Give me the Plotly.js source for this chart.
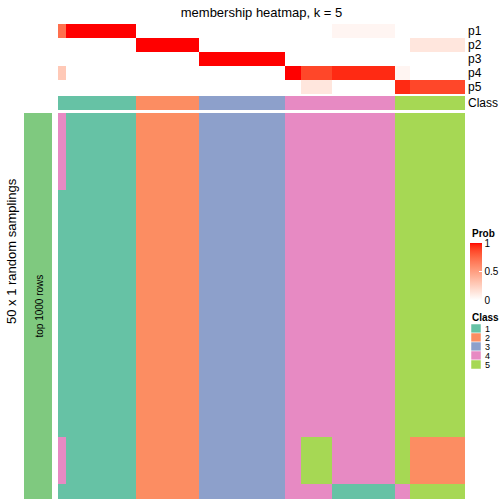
<!DOCTYPE html>
<html><head><meta charset="utf-8">
<script src="https://cdn.plot.ly/plotly-3.0.1.min.js"></script>
<style>html,body{margin:0;padding:0;background:#fff}</style>
</head><body><div id="chart" style="width:504px;height:504px"></div>
<script>
// ---------- data ----------
const probLabels = ["p1","p2","p3","p4","p5"];
const classLabels = ["1","2","3","4","5"];
const p1 = [0.72,1,1,1,1,1,1,1,1,1, 0,0,0,0,0,0,0,0, 0,0,0,0,0,0,0,0,0,0,0, 0,0, 0,0,0,0, 0.05,0.05,0.05,0.05,0.05,0.05,0.05,0.05, 0,0, 0,0,0,0,0,0,0];
const p2 = [0,0,0,0,0,0,0,0,0,0, 1,1,1,1,1,1,1,1, 0,0,0,0,0,0,0,0,0,0,0, 0,0, 0,0,0,0, 0,0,0,0,0,0,0,0, 0,0, 0.13,0.13,0.13,0.13,0.13,0.13,0.13];
const p3 = [0,0,0,0,0,0,0,0,0,0, 0,0,0,0,0,0,0,0, 1,1,1,1,1,1,1,1,1,1,1, 0,0, 0,0,0,0, 0,0,0,0,0,0,0,0, 0,0, 0,0,0,0,0,0,0];
const p4 = [0.28,0,0,0,0,0,0,0,0,0, 0,0,0,0,0,0,0,0, 0,0,0,0,0,0,0,0,0,0,0, 1,1, 0.87,0.87,0.87,0.87, 0.95,0.95,0.95,0.95,0.95,0.95,0.95,0.95, 0.05,0.05, 0,0,0,0,0,0,0];
const p5 = [0,0,0,0,0,0,0,0,0,0, 0,0,0,0,0,0,0,0, 0,0,0,0,0,0,0,0,0,0,0, 0,0, 0.13,0.13,0.13,0.13, 0,0,0,0,0,0,0,0, 0.95,0.95, 0.87,0.87,0.87,0.87,0.87,0.87,0.87];
const sampleClass = [1,1,1,1,1,1,1,1,1,1, 2,2,2,2,2,2,2,2, 3,3,3,3,3,3,3,3,3,3,3, 4,4, 4,4,4,4, 4,4,4,4,4,4,4,4, 5,5, 5,5,5,5,5,5,5];
// distinct sampling-row patterns of the membership heatmap and how many rows each covers
const rowPatternA = [4,1,1,1,1,1,1,1,1,1, 2,2,2,2,2,2,2,2, 3,3,3,3,3,3,3,3,3,3,3, 4,4, 4,4,4,4, 4,4,4,4,4,4,4,4, 5,5, 5,5,5,5,5,5,5];
const rowPatternB = [1,1,1,1,1,1,1,1,1,1, 2,2,2,2,2,2,2,2, 3,3,3,3,3,3,3,3,3,3,3, 4,4, 4,4,4,4, 4,4,4,4,4,4,4,4, 5,5, 5,5,5,5,5,5,5];
const rowPatternC = [4,1,1,1,1,1,1,1,1,1, 2,2,2,2,2,2,2,2, 3,3,3,3,3,3,3,3,3,3,3, 4,4, 5,5,5,5, 4,4,4,4,4,4,4,4, 5,5, 2,2,2,2,2,2,2];
const rowPatternD = [1,1,1,1,1,1,1,1,1,1, 2,2,2,2,2,2,2,2, 3,3,3,3,3,3,3,3,3,3,3, 4,4, 4,4,4,4, 1,1,1,1,1,1,1,1, 4,4, 5,5,5,5,5,5,5];
const rowPatterns = [rowPatternA, rowPatternB, rowPatternC, rowPatternD];
const rowCounts = [10, 32, 6, 2];

// ---------- styling ----------
const W = 504, H = 504;
const classColors = ["#66C2A5","#FC8D62","#8DA0CB","#E78AC3","#A6D854"];
const font = "Liberation Sans, Arial, Helvetica, sans-serif";

function lab2rgb(L,a,b){
  const fy=(L+16)/116, fx=fy+a/500, fz=fy-b/200;
  const f=t=> t>6/29 ? t*t*t : 3*(6/29)*(6/29)*(t-4/29);
  const X=0.95047*f(fx), Y=f(fy), Z=1.08883*f(fz);
  let r=3.2406*X-1.5372*Y-0.4986*Z, g=-0.9689*X+1.8758*Y+0.0415*Z, bb=0.0557*X-0.2040*Y+1.0570*Z;
  const gm=c=>{c=c<=0.0031308?12.92*c:1.055*Math.pow(c,1/2.4)-0.055;return Math.round(255*Math.min(1,Math.max(0,c)));};
  return `rgb(${gm(r)},${gm(g)},${gm(bb)})`;
}
const probScale = [];
for (let i=0;i<=40;i++){ const t=i/40; probScale.push([t, lab2rgb(100-46.76*t, 80.09*t, 67.20*t)]); }

const classScale = [];
classColors.forEach((c,i)=>{ classScale.push([i/5,c]); classScale.push([(i+1)/5,c]); });

const cols = sampleClass.map((_,i)=>i);
const mainZ = [];
rowPatterns.forEach((p,k)=>{ for(let r=0;r<rowCounts[k];r++) mainZ.push(p); });
const mainY = mainZ.map((_,i)=>i);

const px = v => v/W, py = v => 1 - v/H;

const traces = [
  { type:'heatmap', x:cols, y:probLabels, z:[p1,p2,p3,p4,p5], xaxis:'x', yaxis:'y',
    zmin:0, zmax:1, colorscale:probScale, hoverinfo:'skip',
    colorbar:{ x:px(470), xanchor:'left', xref:'paper', y:py(243), yanchor:'top', yref:'paper',
      len:57, lenmode:'pixels', thickness:12, thicknessmode:'pixels', xpad:0, ypad:0,
      outlinewidth:0, tickvals:[0,0.5,1], ticktext:['0','0.5','1'], ticks:'inside', ticklen:3,
      tickcolor:'white', tickfont:{size:10, family:font, color:'#000'} } },
  { type:'heatmap', x:cols, y:['Class'], z:[sampleClass], xaxis:'x', yaxis:'y2',
    zmin:0.5, zmax:5.5, colorscale:classScale, showscale:false, hoverinfo:'skip' },
  { type:'heatmap', x:cols, y:mainY, z:mainZ, xaxis:'x', yaxis:'y3',
    zmin:0.5, zmax:5.5, colorscale:classScale, showscale:false, hoverinfo:'skip' },
  { type:'heatmap', x:[0], y:[0], z:[[1]], xaxis:'x2', yaxis:'y4',
    zmin:0, zmax:1, colorscale:[[0,'#7FC97F'],[1,'#7FC97F']], showscale:false, hoverinfo:'skip' }
];

const hidden = {visible:false, showgrid:false, zeroline:false, fixedrange:true};
const annotations = [
  {text:'<b>Prob</b>', x:px(470), y:py(233), xref:'paper', yref:'paper', xanchor:'left', yanchor:'middle', showarrow:false, font:{size:10,family:font,color:'#000'}},
  {text:'<b>Class</b>', x:px(470), y:py(317), xref:'paper', yref:'paper', xanchor:'left', yanchor:'middle', showarrow:false, font:{size:10,family:font,color:'#000'}},
  {text:'50 x 1 random samplings', x:px(11), y:py(251), xref:'paper', yref:'paper', xanchor:'center', yanchor:'middle', textangle:-90, showarrow:false, font:{size:13,family:font,color:'#000'}},
  {text:'top 1000 rows', x:px(38.5), y:py(306), xref:'paper', yref:'paper', xanchor:'center', yanchor:'middle', textangle:-90, showarrow:false, font:{size:10,family:font,color:'#000'}}
];
const shapes = [];
const boxH = 9, boxTop = 324;
classLabels.forEach((lab,i)=>{
  const y0 = boxTop + i*boxH;
  shapes.push({type:'rect', xref:'paper', yref:'paper', x0:px(471), x1:px(481), y0:py(y0+boxH), y1:py(y0),
    fillcolor:classColors[i], line:{color:'white', width:0.5}});
  annotations.push({text:lab, x:px(484), y:py(y0+boxH/2), xref:'paper', yref:'paper', xanchor:'left', yanchor:'middle', showarrow:false, borderpad:0, font:{size:9,family:font,color:'#000'}});
});

const layout = {
  width:W, height:H, margin:{l:0,r:0,t:0,b:0}, paper_bgcolor:'#fff', plot_bgcolor:'#fff',
  font:{family:font, color:'#000'}, showlegend:false,
  title:{text:'membership heatmap, k = 5', x:px(261.5), xanchor:'center', y:py(12), yanchor:'middle', font:{size:13,family:font,color:'#000'}},
  xaxis: Object.assign({}, hidden, {domain:[px(58),px(465)], range:[-0.5,51.5], anchor:'y3'}),
  xaxis2: Object.assign({}, hidden, {domain:[px(24),px(52)], range:[-0.5,0.5], anchor:'y4'}),
  yaxis: {domain:[py(94),py(24)], anchor:'x', side:'right', autorange:'reversed', type:'category',
    tickmode:'array', tickvals:probLabels, ticktext:probLabels,
    showgrid:false, zeroline:false, ticks:'', showline:false, fixedrange:true, ticklabelstandoff:2,
    tickfont:{size:12,family:font,color:'#000'}},
  yaxis2: {domain:[py(110),py(96)], anchor:'x', side:'right', type:'category',
    tickmode:'array', tickvals:['Class'], ticktext:['Class'],
    showgrid:false, zeroline:false, ticks:'', showline:false, fixedrange:true, ticklabelstandoff:2,
    tickfont:{size:12,family:font,color:'#000'}},
  yaxis3: Object.assign({}, hidden, {domain:[py(499),py(113)], range:[49.5,-0.5], anchor:'x'}),
  yaxis4: Object.assign({}, hidden, {domain:[py(499),py(113)], range:[-0.5,0.5], anchor:'x2'}),
  annotations, shapes
};
Plotly.newPlot('chart', traces, layout, {staticPlot:true, displayModeBar:false});
</script></body></html>
